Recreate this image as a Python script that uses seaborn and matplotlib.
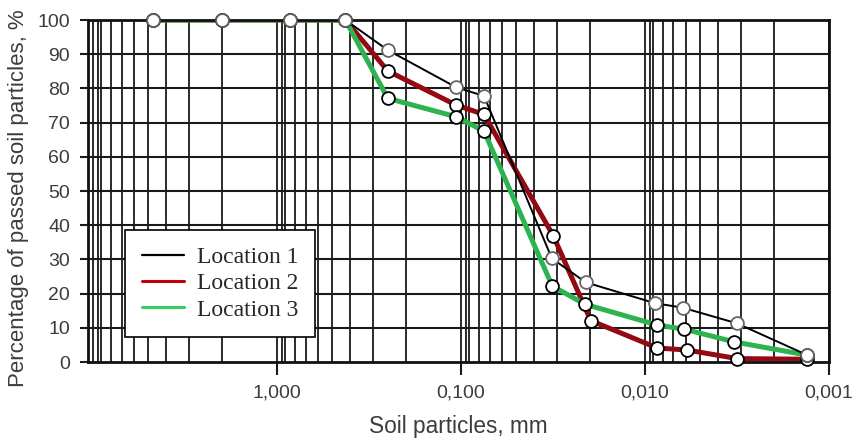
import numpy as np
import pandas as pd
import matplotlib
matplotlib.use("Agg")
import matplotlib.pyplot as plt
import seaborn as sns
from matplotlib.lines import Line2D
from matplotlib.ticker import NullLocator

# ---------------- data ----------------
locations = ["Location 1", "Location 2", "Location 3"]
size_l1 = [4.75, 2.0, 0.85, 0.425, 0.25, 0.106, 0.075, 0.0321, 0.0210, 0.00882, 0.00625, 0.00316, 0.00131]
pass_l1 = [100, 100, 100, 100, 91.2, 80.3, 77.8, 30.3, 23.3, 17.2, 15.9, 11.3, 2.0]
size_l2 = [4.75, 2.0, 0.85, 0.425, 0.25, 0.106, 0.075, 0.0315, 0.0197, 0.00857, 0.00589, 0.00315, 0.00131]
pass_l2 = [100, 100, 100, 100, 85.1, 75.1, 72.4, 36.9, 12.1, 4.1, 3.5, 1.0, 0.8]
size_l3 = [4.75, 2.0, 0.85, 0.425, 0.25, 0.106, 0.075, 0.0319, 0.0212, 0.00857, 0.0061, 0.00328, 0.00131]
pass_l3 = [100, 100, 100, 100, 77.1, 71.7, 67.5, 22.2, 16.9, 10.8, 9.6, 5.9, 2.0]

xtick_values = [1.0, 0.1, 0.01, 0.001]
xtick_labels = ["1,000", "0,100", "0,010", "0,001"]
ytick_values = list(range(0, 101, 10))

# ---------------- style ----------------
sns.set_style("white")
plt.rcParams["font.family"] = ["Liberation Sans", "DejaVu Sans"]
TXT = "#3c3c3c"

fig = plt.figure(figsize=(8.57, 4.41), dpi=100)
ax = fig.add_axes([0.1027, 0.1791, 0.8646, 0.7755])
ax.set_xscale("log")
ax.set_xlim(10.65, 0.001)
ax.set_ylim(0, 100)

# grid (decorative log grid)
grid_x = []
for k in [1, 0, -1, -2, -3]:
    d = 10.0 ** k
    grid_x.append(d)
    if k > -3:
        grid_x.append(0.94 * d)
for k in [0, -1, -2, -3]:
    d = 10.0 ** k
    for m in range(2, 10):
        grid_x.append(m * d)
for gx in grid_x:
    if 0.001 <= gx <= 10.65:
        ax.axvline(gx, color="#1a1a1a", lw=1.3, zorder=0.5)
for gy in range(10, 100, 10):
    ax.axhline(gy, color="#1a1a1a", lw=1.5, zorder=0.5)

# lines
red = "#930a12"
green = "#2db34f"
sns.lineplot(x=size_l2, y=pass_l2, color=red, lw=3.6, sort=False, estimator=None, ax=ax, zorder=2, legend=False)
sns.lineplot(x=size_l3, y=pass_l3, color=green, lw=3.6, sort=False, estimator=None, ax=ax, zorder=2.1, legend=False)
sns.lineplot(x=size_l1, y=pass_l1, color="black", lw=1.4, sort=False, estimator=None, ax=ax, zorder=2.2, legend=False)

# markers
for xs, ys, ec in [(size_l2, pass_l2, "black"), (size_l3, pass_l3, "black"), (size_l1, pass_l1, "#666666")]:
    sns.scatterplot(x=xs, y=ys, s=85, color="white", edgecolor=ec, linewidth=1.3,
                    zorder=5, clip_on=False, legend=False, ax=ax)

# ticks
ax.set_xticks(xtick_values)
ax.set_xticklabels(xtick_labels)
ax.xaxis.set_minor_locator(NullLocator())
ax.set_yticks(ytick_values)
ax.tick_params(axis="x", which="major", length=9, width=1.5, pad=7, labelsize=14, labelcolor=TXT, color="#1a1a1a", bottom=True)
ax.tick_params(axis="y", which="major", length=6, width=1.5, pad=7, labelsize=14, labelcolor=TXT, color="#1a1a1a", left=True)

for sp in ax.spines.values():
    sp.set_color("#111111")
    sp.set_linewidth(2)

ax.set_xlabel("Soil particles, mm", fontsize=16.3, color=TXT)
ax.set_ylabel("Percentage of passed soil particles, %", fontsize=16, color=TXT)
ax.xaxis.set_label_coords(0.5, -0.155)
ax.yaxis.set_label_coords(-0.079, 0.48)

handles = [Line2D([], [], color="black", lw=1.6),
           Line2D([], [], color="#c00000", lw=2.2),
           Line2D([], [], color="#33cc66", lw=2.2)]
leg = ax.legend(handles, locations, loc="upper left", bbox_to_anchor=(0.05, 0.386),
                prop={"family": "Liberation Serif", "size": 17},
                frameon=True, fancybox=False, edgecolor="black", framealpha=1,
                borderpad=0.7, labelspacing=0.2, handlelength=1.8, handletextpad=0.55,
                borderaxespad=0)
leg.get_frame().set_linewidth(1.2)
leg.set_zorder(10)

fig.savefig("out.png", dpi=100)
